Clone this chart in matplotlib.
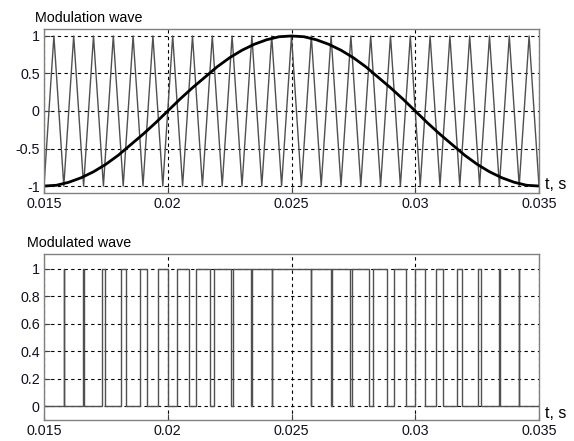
import numpy as np
import matplotlib.pyplot as plt

plt.rcParams['font.family'] = ['Liberation Sans', 'DejaVu Sans']

# modulation wave, sampled every 0.5 ms from 0.015 s to 0.035 s
mod_t = np.linspace(0.015, 0.035, 41)
mod_v = [-1.00, -0.99, -0.95, -0.89, -0.81, -0.71, -0.59, -0.45, -0.31, -0.16,
         0.00, 0.16, 0.31, 0.45, 0.59, 0.71, 0.81, 0.89, 0.95, 0.99,
         1.00, 0.99, 0.95, 0.89, 0.81, 0.71, 0.59, 0.45, 0.31, 0.16,
         0.00, -0.16, -0.31, -0.45, -0.59, -0.71, -0.81, -0.89, -0.95, -0.99, -1.00]

# triangle carrier corners
carrier_valleys = [0.0150, 0.0158, 0.0166, 0.0174, 0.0182, 0.0190, 0.0198, 0.0206, 0.0214,
                   0.0222, 0.0230, 0.0238, 0.0246, 0.0254, 0.0262, 0.0270, 0.0278, 0.0286,
                   0.0294, 0.0302, 0.0310, 0.0318, 0.0326, 0.0334, 0.0342, 0.0350]
carrier_peaks = [0.0154, 0.0162, 0.0170, 0.0178, 0.0186, 0.0194, 0.0202, 0.0210, 0.0218,
                 0.0226, 0.0234, 0.0242, 0.0250, 0.0258, 0.0266, 0.0274, 0.0282, 0.0290,
                 0.0298, 0.0306, 0.0314, 0.0322, 0.0330, 0.0338, 0.0346]

# modulated wave: times where it switches to 1 and back to 0
pulse_on = [0.015794, 0.016576, 0.017348, 0.018112, 0.018870, 0.019624, 0.020376, 0.021130,
            0.021888, 0.022651, 0.023423, 0.024205, 0.025805, 0.026624, 0.027456, 0.028298,
            0.029147, 0.030000, 0.030853, 0.031702, 0.032543, 0.033374, 0.034194]
pulse_off = [0.015806, 0.016626, 0.017457, 0.018298, 0.019147, 0.020000, 0.020853, 0.021702,
             0.022544, 0.023376, 0.024195, 0.025795, 0.026577, 0.027349, 0.028112, 0.028870,
             0.029624, 0.030376, 0.031130, 0.031888, 0.032652, 0.033424, 0.034206]

x_ticks = [0.015, 0.02, 0.025, 0.03, 0.035]
x_labels = ['0.015', '0.02', '0.025', '0.03', '0.035']

# build carrier polyline
c_t = np.array(carrier_valleys + carrier_peaks)
c_v = np.array([-1.0] * len(carrier_valleys) + [1.0] * len(carrier_peaks))
order = np.argsort(c_t)
c_t, c_v = c_t[order], c_v[order]

# build stairs for pwm
p_t = [0.015]
p_v = [0]
for a, b in zip(pulse_on, pulse_off):
    p_t += [a, a, b, b]
    p_v += [0, 1, 1, 0]
p_t.append(0.035)
p_v.append(0)

fig = plt.figure(figsize=(5.74, 4.41), dpi=100)
ax1 = fig.add_axes([44 / 574, 1 - 193 / 441, 495 / 574, 164 / 441])
ax2 = fig.add_axes([44 / 574, 1 - 420 / 441, 495 / 574, 165.7 / 441])

ax1.plot(c_t, c_v, color='#505050', lw=1.0)
ax1.plot(mod_t, mod_v, color='black', lw=2.0)
ax1.set_ylim(-1.093, 1.093)
ax1.set_yticks([-1, -0.5, 0, 0.5, 1])
ax1.set_yticklabels(['-1', '-0.5', '0', '0.5', '1'])

ax2.plot(p_t, p_v, color='#505050', lw=1.0)
ax2.set_ylim(-0.1, 1.105)
ax2.set_yticks([0, 0.2, 0.4, 0.6, 0.8, 1])
ax2.set_yticklabels(['0', '0.2', '0.4', '0.6', '0.8', '1'])

for ax in (ax1, ax2):
    ax.set_xlim(0.015, 0.035)
    ax.set_xticks(x_ticks)
    ax.set_xticklabels(x_labels)
    ax.grid(True, color='black', linestyle=(0, (3, 3)), lw=0.8)
    ax.set_axisbelow(True)
    ax.tick_params(direction='in', length=4, width=0.8, color='#404040',
                   labelsize=10.3, pad=3, top=False, right=False, labelcolor='#101020')
    for s in ax.spines.values():
        s.set_color('#808080')
        s.set_linewidth(1.0)

ax1.text(1.012, 0.05, 't, s', transform=ax1.transAxes, fontsize=11.5, va='center', ha='left')
ax2.text(1.012, 0.04, 't, s', transform=ax2.transAxes, fontsize=11.5, va='center', ha='left')
fig.text(35 / 574, 1 - 18 / 441, 'Modulation wave', fontsize=10.3, va='center', ha='left')
fig.text(27 / 574, 1 - 243 / 441, 'Modulated wave', fontsize=10.3, va='center', ha='left')

fig.savefig('out.png', dpi=100)
